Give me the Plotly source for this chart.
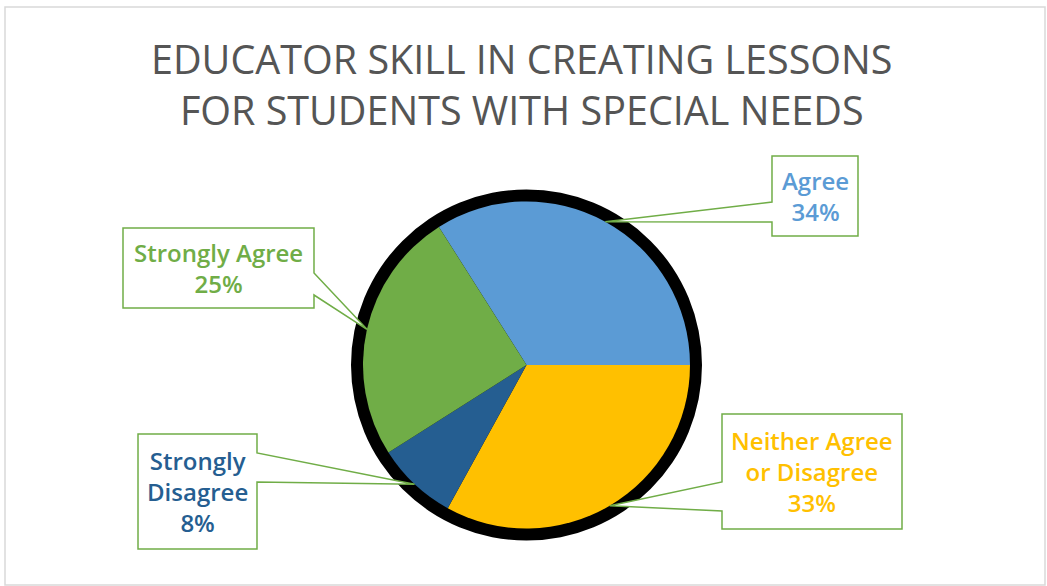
import math
import plotly.graph_objects as go

# Survey responses (share of educators, %)
categories = ["Agree", "Neither Agree or Disagree", "Strongly Disagree", "Strongly Agree"]
values = [34, 33, 8, 25]
label_lines = ["Agree", "Neither Agree<br>or Disagree", "Strongly<br>Disagree", "Strongly Agree"]
slice_colors = ["#5B9BD5", "#FFC000", "#255E91", "#70AD47"]
text_colors = ["#5B9BD5", "#FFC000", "#255E91", "#70AD47"]

title_text = "EDUCATOR SKILL IN CREATING LESSONS<br>FOR STUDENTS WITH SPECIAL NEEDS"

# Canvas and pie geometry (pixels)
W, H = 1047, 586
CX, CY, R = 526.5, 365.0, 163.5
SHADOW_R = 175.5
START_ANGLE = -32.4  # first slice starts left of 12 o'clock, runs clockwise

# Callout boxes (left, top, right, bottom) in pixels, plus pointer side and base
boxes = [
    dict(box=(772, 156, 858, 236), side="left", base=(202, 222)),
    dict(box=(722, 414, 902, 529), side="left", base=(482, 511)),
    dict(box=(138, 434, 257, 549), side="right", base=(453, 482)),
    dict(box=(123, 228, 314, 308), side="right", base=(273, 295)),
]

FONT = "Open Sans"
GREEN = "#70AD47"


def px(x):
    return x / W


def py(y):
    return 1 - y / H


fig = go.Figure(
    go.Pie(
        labels=categories,
        values=values,
        sort=False,
        direction="clockwise",
        rotation=START_ANGLE,
        marker=dict(colors=slice_colors, line=dict(width=0)),
        textinfo="none",
        hoverinfo="label+percent",
        showlegend=False,
        domain=dict(x=[px(CX - R), px(CX + R)], y=[py(CY + R), py(CY - R)]),
    )
)

shapes = [
    # outer chart frame
    dict(type="rect", xref="paper", yref="paper",
         x0=px(5), x1=px(1045), y0=py(585), y1=py(7),
         line=dict(color="#D9D9D9", width=1.5), fillcolor="rgba(0,0,0,0)", layer="below"),
    # dark halo behind the pie
    dict(type="circle", xref="paper", yref="paper",
         x0=px(CX - SHADOW_R), x1=px(CX + SHADOW_R),
         y0=py(CY + SHADOW_R), y1=py(CY - SHADOW_R),
         line=dict(width=0), fillcolor="black", layer="below"),
]

annotations = [
    dict(text=title_text, x=px(522), y=py(84), xref="paper", yref="paper",
         xanchor="center", yanchor="middle", showarrow=False,
         font=dict(family=FONT, size=39.5, color="#555555")),
]

total = sum(values)
cum = 0
for i, v in enumerate(values):
    mid = math.radians(START_ANGLE + 360 * (cum + v / 2) / total)
    cum += v
    tx = CX + R * math.sin(mid)
    ty = CY - R * math.cos(mid)
    b = boxes[i]
    l, t, r, btm = b["box"]
    p1, p2 = b["base"]
    if b["side"] == "left":
        pts = [(l, t), (r, t), (r, btm), (l, btm), (l, p2), (tx, ty), (l, p1)]
    else:
        pts = [(l, t), (r, t), (r, p1), (tx, ty), (r, p2), (r, btm), (l, btm)]
    path = "M " + " L ".join(f"{px(x):.5f},{py(y):.5f}" for x, y in pts) + " Z"
    shapes.append(dict(type="path", xref="paper", yref="paper", path=path,
                       fillcolor="white", line=dict(color=GREEN, width=1.5),
                       layer="above"))
    annotations.append(dict(
        text=f"{label_lines[i]}<br>{v}%",
        x=px((l + r) / 2), y=py((t + btm) / 2), xref="paper", yref="paper",
        xanchor="center", yanchor="middle", showarrow=False,
        font=dict(family=FONT, size=24, color=text_colors[i], weight=600),
    ))

fig.update_layout(
    width=W, height=H,
    margin=dict(l=0, r=0, t=0, b=0),
    paper_bgcolor="white", plot_bgcolor="white",
    shapes=shapes, annotations=annotations,
)

fig.write_html("out.html")
